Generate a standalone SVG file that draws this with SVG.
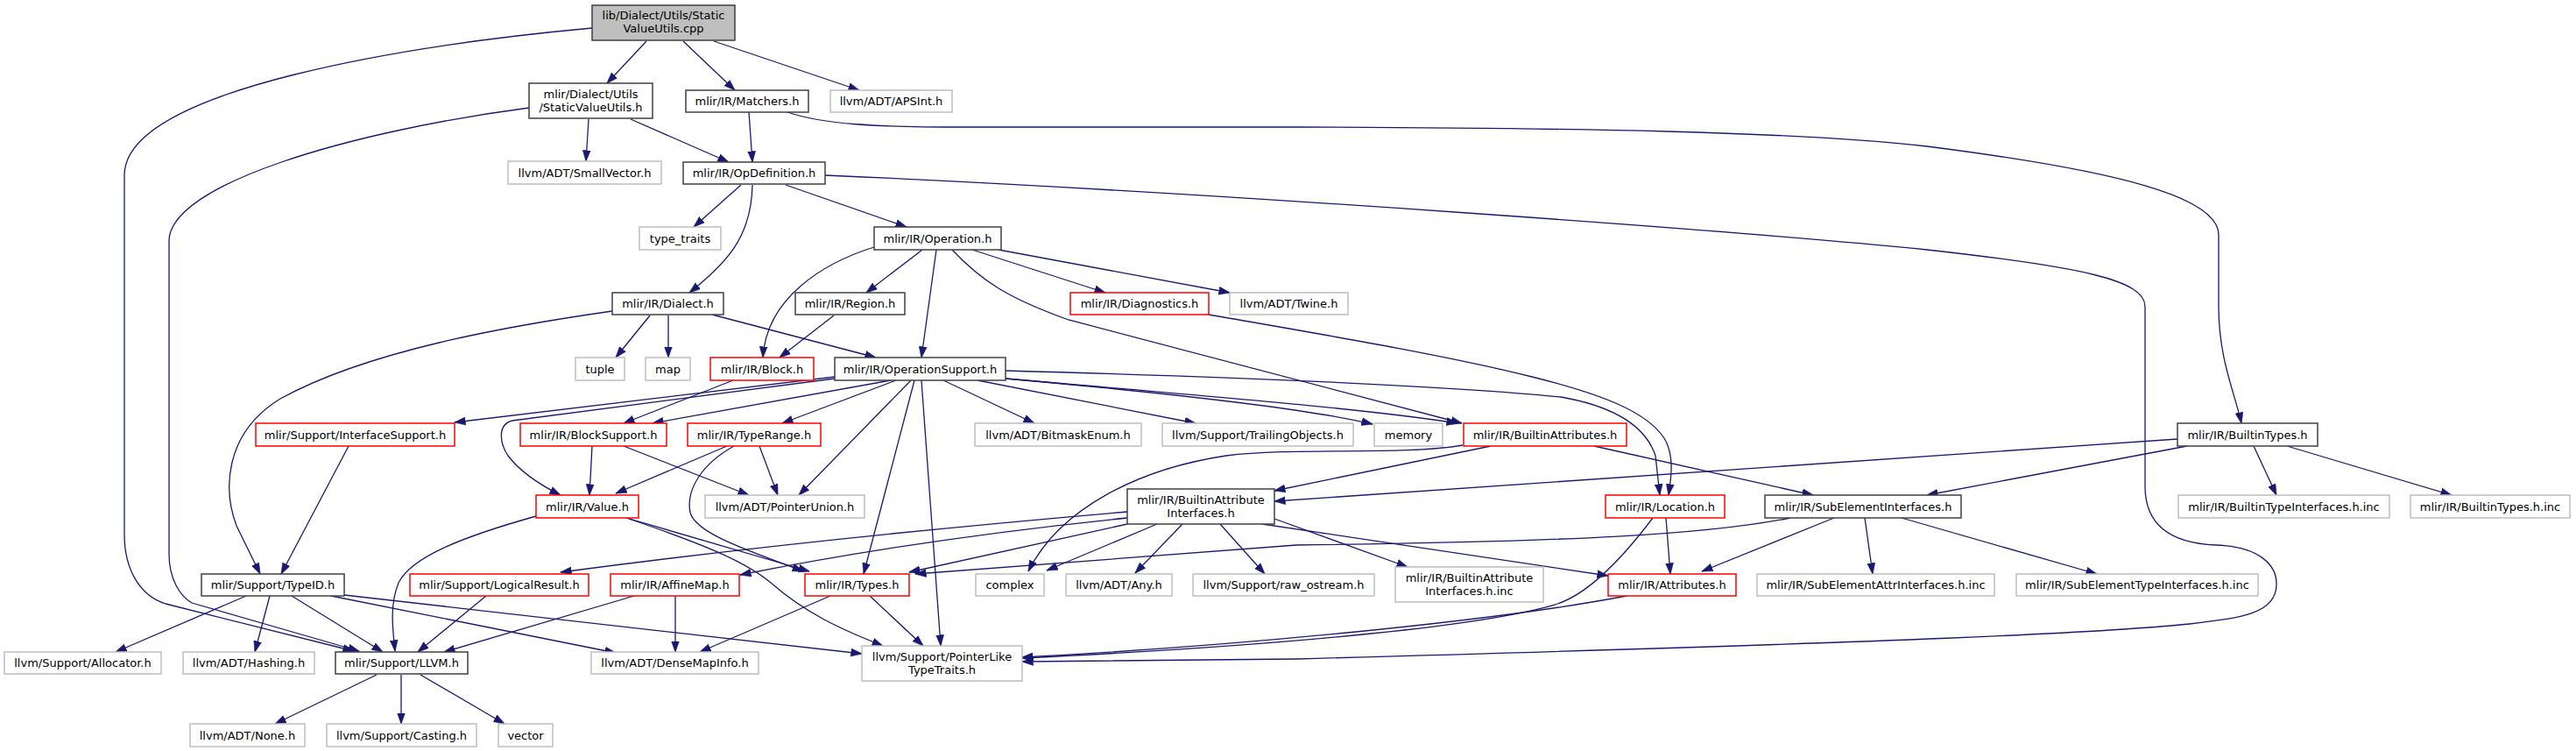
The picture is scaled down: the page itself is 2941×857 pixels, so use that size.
<svg xmlns="http://www.w3.org/2000/svg" width="2941" height="857" viewBox="0 0 2941 857">
<style>
.nd rect{fill:#fff;stroke-width:1.5}
.b rect{stroke:#404040}
.r rect{stroke:#ff0000}
.g rect{stroke:#bfbfbf}
.rt rect{fill:#bfbfbf;stroke:#404040}
.nd text{font-family:"DejaVu Sans",sans-serif;font-size:13px;text-anchor:middle;fill:#000}
#edges path{fill:none;stroke:#191970;stroke-width:1.3;marker-end:url(#ah)}
</style>
<defs>
<marker id="ah" markerUnits="userSpaceOnUse" markerWidth="13" markerHeight="10" viewBox="0 0 13 10" refX="12.5" refY="5" orient="auto">
<path d="M0,0.5 L13,5 L0,9.5 z" fill="#191970" stroke="#191970" stroke-width="0.5"/>
</marker>
</defs>
<rect width="2941" height="857" fill="#fff"/>
<g id="edges">
<path d="M676,32 C480,50 142,100 142,200 L142,610 C142,650 160,680 189,689 L404,743"/>
<path d="M604,123 C400,150 193,210 193,275 L193,632 C193,660 205,680 219,688 L410,743"/>
<path d="M738,47 L693,95"/>
<path d="M780,47 L839,103"/>
<path d="M815,47 L981,103"/>
<path d="M672,136 L669,184"/>
<path d="M720,136 L832,185"/>
<path d="M855,128 L859,185"/>
<path d="M899,128 C940,142 1000,145 1100,145 L1480,145 C1800,146 2050,150 2200,167 C2420,195 2533,225 2533,268 L2533,350 C2533,410 2552,450 2559,483"/>
<path d="M846,211 L792,259"/>
<path d="M859,211 C858,270 830,300 787,334"/>
<path d="M897,211 L1035,259"/>
<path d="M942,200 C1400,220 2000,265 2200,285 C2380,305 2449,320 2449,350 L2449,555 C2449,600 2480,620 2530,622 C2580,624 2600,645 2599,668 C2598,700 2560,705 2500,712 C2400,722 2200,732 1480,752 L1167,755"/>
<path d="M998,282 C940,300 875,340 871,408"/>
<path d="M1053,285 L989,334"/>
<path d="M1069,285 L1052,408"/>
<path d="M1110,285 L1262,334"/>
<path d="M1140,285 L1404,334"/>
<path d="M1087,285 C1120,320 1150,340 1220,365 L1669,483"/>
<path d="M1380,359 C1500,380 1650,405 1749,430 C1830,450 1880,470 1900,500 C1912,520 1908,545 1905,565"/>
<path d="M742,360 L703,408"/>
<path d="M763,360 L763,408"/>
<path d="M813,359 L1000,408"/>
<path d="M699,355 C580,372 420,400 320,455 C255,495 255,560 270,600 L297,655"/>
<path d="M952,360 L890,408"/>
<path d="M837,434 L712,483"/>
<path d="M953,430 L519,482"/>
<path d="M953,432 L585,480 C568,484 570,505 580,520 C595,540 620,555 640,565"/>
<path d="M1017,434 L745,483"/>
<path d="M1023,434 L893,483"/>
<path d="M1040,434 L912,565"/>
<path d="M1044,434 L986,655"/>
<path d="M1052,434 L1074,737"/>
<path d="M1077,434 L1181,483"/>
<path d="M1116,434 L1365,483"/>
<path d="M1148,432 C1350,450 1500,468 1567,484"/>
<path d="M1148,432 C1350,450 1550,465 1664,483"/>
<path d="M1148,423 C1400,430 1650,440 1782,453 C1850,465 1880,490 1890,520 L1895,565"/>
<path d="M398,509 L321,655"/>
<path d="M676,509 L673,565"/>
<path d="M712,509 L855,565"/>
<path d="M830,509 L703,563"/>
<path d="M867,509 L888,565"/>
<path d="M838,509 C800,530 783,560 788,585 C795,610 860,630 917,652"/>
<path d="M715,591 L924,652"/>
<path d="M718,592 C800,620 850,640 880,665 C920,700 960,718 1008,737"/>
<path d="M612,589 C530,612 470,635 455,665 C445,690 448,715 451,743"/>
<path d="M1670,508 C1600,520 1480,510 1400,520 C1300,535 1210,580 1174,652"/>
<path d="M1702,509 L1455,560"/>
<path d="M1820,509 L2070,565"/>
<path d="M2486,501 L1455,572"/>
<path d="M2497,509 L2200,565"/>
<path d="M2573,509 L2599,565"/>
<path d="M2611,509 L2799,565"/>
<path d="M1287,584 C1100,600 850,625 640,653"/>
<path d="M1287,591 C1150,605 1000,625 845,656"/>
<path d="M1287,598 L1038,653"/>
<path d="M1321,598 L1195,651"/>
<path d="M1350,598 L1296,654"/>
<path d="M1393,598 L1444,655"/>
<path d="M1455,592 L1607,647"/>
<path d="M1441,598 L1836,657"/>
<path d="M1902,591 L1907,655"/>
<path d="M1887,591 C1850,640 1810,680 1775,690 C1700,712 1500,735 1167,751"/>
<path d="M1857,680 C1700,710 1400,738 1167,750"/>
<path d="M2044,591 C1950,610 1800,618 1480,622 L1045,655"/>
<path d="M2094,591 L1943,652"/>
<path d="M2129,591 L2138,655"/>
<path d="M2171,591 L2394,655"/>
<path d="M948,680 L799,744"/>
<path d="M993,680 L1054,737"/>
<path d="M771,680 L771,744"/>
<path d="M724,680 L507,744"/>
<path d="M555,680 L477,744"/>
<path d="M281,680 L132,744"/>
<path d="M308,680 L291,744"/>
<path d="M333,680 L437,744"/>
<path d="M378,680 L703,745"/>
<path d="M393,679 L984,746"/>
<path d="M430,770 L314,826"/>
<path d="M458,770 L458,826"/>
<path d="M480,770 L576,826"/>
</g>
<g id="root" class="nd rt"><rect x="676" y="6" width="163" height="40"/><text x="757.5" y="22">lib/Dialect/Utils/Static</text><text x="757.5" y="37">ValueUtils.cpp</text></g>
<g id="svu" class="nd b"><rect x="604" y="95" width="141" height="40"/><text x="674.5" y="111.5">mlir/Dialect/Utils</text><text x="674.5" y="126.5">/StaticValueUtils.h</text></g>
<g id="matchers" class="nd b"><rect x="783" y="103" width="140" height="25"/><text x="853" y="120">mlir/IR/Matchers.h</text></g>
<g id="apsint" class="nd g"><rect x="948" y="103" width="139" height="25"/><text x="1017.5" y="120">llvm/ADT/APSInt.h</text></g>
<g id="smallvector" class="nd g"><rect x="580" y="184" width="175" height="26"/><text x="667.5" y="201.5">llvm/ADT/SmallVector.h</text></g>
<g id="opdef" class="nd b"><rect x="780" y="185" width="162" height="25"/><text x="861" y="202">mlir/IR/OpDefinition.h</text></g>
<g id="typetraits" class="nd g"><rect x="730" y="259" width="93" height="26"/><text x="776.5" y="276.5">type_traits</text></g>
<g id="operation" class="nd b"><rect x="998" y="259" width="145" height="26"/><text x="1070.5" y="276.5">mlir/IR/Operation.h</text></g>
<g id="dialect" class="nd b"><rect x="699" y="334" width="127" height="25"/><text x="762.5" y="351">mlir/IR/Dialect.h</text></g>
<g id="region" class="nd b"><rect x="908" y="334" width="125" height="25"/><text x="970.5" y="351">mlir/IR/Region.h</text></g>
<g id="diagnostics" class="nd r"><rect x="1222" y="334" width="158" height="25"/><text x="1301" y="351">mlir/IR/Diagnostics.h</text></g>
<g id="twine" class="nd g"><rect x="1404" y="334" width="135" height="25"/><text x="1471.5" y="351">llvm/ADT/Twine.h</text></g>
<g id="tuple" class="nd g"><rect x="657" y="408" width="56" height="26"/><text x="685" y="425.5">tuple</text></g>
<g id="map" class="nd g"><rect x="737" y="408" width="51" height="26"/><text x="762.5" y="425.5">map</text></g>
<g id="block" class="nd r"><rect x="811" y="408" width="118" height="26"/><text x="870" y="425.5">mlir/IR/Block.h</text></g>
<g id="opsupport" class="nd b"><rect x="953" y="408" width="195" height="26"/><text x="1050.5" y="425.5">mlir/IR/OperationSupport.h</text></g>
<g id="interfacesupport" class="nd r"><rect x="292" y="483" width="227" height="26"/><text x="405.5" y="500.5">mlir/Support/InterfaceSupport.h</text></g>
<g id="blocksupport" class="nd r"><rect x="594" y="483" width="167" height="26"/><text x="677.5" y="500.5">mlir/IR/BlockSupport.h</text></g>
<g id="typerange" class="nd r"><rect x="785" y="483" width="152" height="26"/><text x="861" y="500.5">mlir/IR/TypeRange.h</text></g>
<g id="bitmask" class="nd g"><rect x="1113" y="483" width="190" height="26"/><text x="1208" y="500.5">llvm/ADT/BitmaskEnum.h</text></g>
<g id="trailing" class="nd g"><rect x="1327" y="483" width="218" height="26"/><text x="1436" y="500.5">llvm/Support/TrailingObjects.h</text></g>
<g id="memory" class="nd g"><rect x="1569" y="483" width="78" height="26"/><text x="1608" y="500.5">memory</text></g>
<g id="builtinattrs" class="nd r"><rect x="1671" y="483" width="186" height="26"/><text x="1764" y="500.5">mlir/IR/BuiltinAttributes.h</text></g>
<g id="builtintypes" class="nd b"><rect x="2486" y="483" width="160" height="26"/><text x="2566" y="500.5">mlir/IR/BuiltinTypes.h</text></g>
<g id="value" class="nd r"><rect x="612" y="565" width="117" height="26"/><text x="670.5" y="582.5">mlir/IR/Value.h</text></g>
<g id="pointerunion" class="nd g"><rect x="805" y="565" width="182" height="26"/><text x="896" y="582.5">llvm/ADT/PointerUnion.h</text></g>
<g id="bai" class="nd b"><rect x="1287" y="558" width="168" height="40"/><text x="1371" y="574.5">mlir/IR/BuiltinAttribute</text><text x="1371" y="589.5">Interfaces.h</text></g>
<g id="location" class="nd r"><rect x="1833" y="565" width="136" height="26"/><text x="1901" y="582.5">mlir/IR/Location.h</text></g>
<g id="subelem" class="nd b"><rect x="2015" y="565" width="224" height="26"/><text x="2127" y="582.5">mlir/IR/SubElementInterfaces.h</text></g>
<g id="btinc" class="nd g"><rect x="2487" y="565" width="241" height="26"/><text x="2607.5" y="582.5">mlir/IR/BuiltinTypeInterfaces.h.inc</text></g>
<g id="btypesinc" class="nd g"><rect x="2752" y="565" width="182" height="26"/><text x="2843" y="582.5">mlir/IR/BuiltinTypes.h.inc</text></g>
<g id="typeid" class="nd b"><rect x="230" y="655" width="163" height="25"/><text x="311.5" y="672">mlir/Support/TypeID.h</text></g>
<g id="logicalresult" class="nd r"><rect x="468" y="655" width="204" height="25"/><text x="570" y="672">mlir/Support/LogicalResult.h</text></g>
<g id="affinemap" class="nd r"><rect x="697" y="655" width="147" height="25"/><text x="770.5" y="672">mlir/IR/AffineMap.h</text></g>
<g id="types" class="nd r"><rect x="919" y="655" width="119" height="25"/><text x="978.5" y="672">mlir/IR/Types.h</text></g>
<g id="complex" class="nd g"><rect x="1114" y="655" width="78" height="25"/><text x="1153" y="672">complex</text></g>
<g id="any" class="nd g"><rect x="1217" y="655" width="121" height="25"/><text x="1277.5" y="672">llvm/ADT/Any.h</text></g>
<g id="rawostream" class="nd g"><rect x="1362" y="655" width="207" height="25"/><text x="1465.5" y="672">llvm/Support/raw_ostream.h</text></g>
<g id="baiinc" class="nd g"><rect x="1593" y="647" width="169" height="40"/><text x="1677.5" y="663.5">mlir/IR/BuiltinAttribute</text><text x="1677.5" y="678.5">Interfaces.h.inc</text></g>
<g id="attributes" class="nd r"><rect x="1836" y="655" width="146" height="25"/><text x="1909" y="672">mlir/IR/Attributes.h</text></g>
<g id="seattrinc" class="nd g"><rect x="2006" y="655" width="271" height="25"/><text x="2141.5" y="672">mlir/IR/SubElementAttrInterfaces.h.inc</text></g>
<g id="setypeinc" class="nd g"><rect x="2302" y="655" width="276" height="25"/><text x="2440" y="672">mlir/IR/SubElementTypeInterfaces.h.inc</text></g>
<g id="allocator" class="nd g"><rect x="5" y="744" width="179" height="25"/><text x="94.5" y="761">llvm/Support/Allocator.h</text></g>
<g id="hashing" class="nd g"><rect x="209" y="744" width="150" height="25"/><text x="284" y="761">llvm/ADT/Hashing.h</text></g>
<g id="llvm" class="nd b"><rect x="383" y="744" width="151" height="25"/><text x="458.5" y="761">mlir/Support/LLVM.h</text></g>
<g id="densemap" class="nd g"><rect x="675" y="744" width="191" height="25"/><text x="770.5" y="761">llvm/ADT/DenseMapInfo.h</text></g>
<g id="pltt" class="nd g"><rect x="984" y="737" width="183" height="40"/><text x="1075.5" y="753.5">llvm/Support/PointerLike</text><text x="1075.5" y="768.5">TypeTraits.h</text></g>
<g id="none" class="nd g"><rect x="217" y="826" width="131" height="26"/><text x="282.5" y="843.5">llvm/ADT/None.h</text></g>
<g id="casting" class="nd g"><rect x="373" y="826" width="171" height="26"/><text x="458.5" y="843.5">llvm/Support/Casting.h</text></g>
<g id="vector" class="nd g"><rect x="569" y="826" width="62" height="26"/><text x="600" y="843.5">vector</text></g>
</svg>
